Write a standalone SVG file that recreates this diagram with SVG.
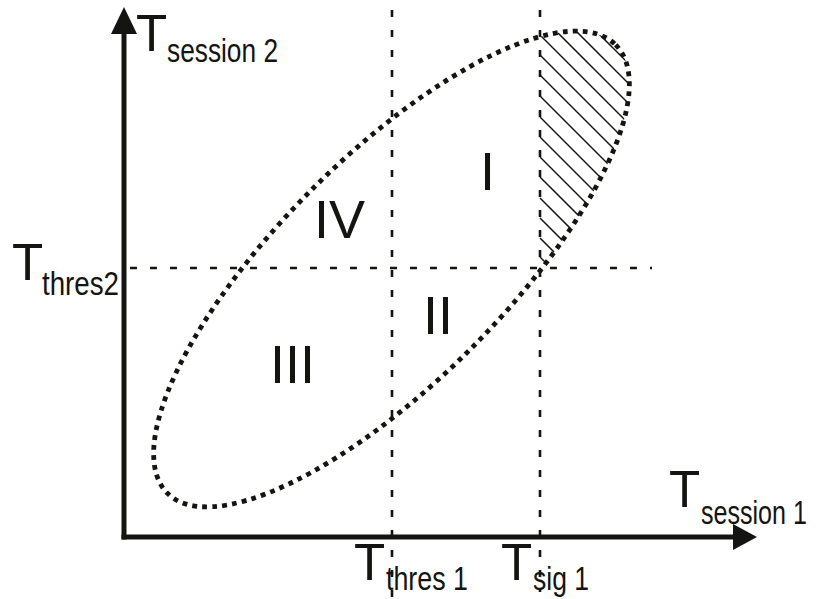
<svg xmlns="http://www.w3.org/2000/svg" width="819" height="599" viewBox="0 0 819 599">
<style>
.axis{stroke:#141410;stroke-width:5;fill:none}
.head{fill:#141410}
.grid{stroke:#141410;stroke-width:2.6;stroke-dasharray:7 13;fill:none}
.ell{stroke:#141410;stroke-width:4.8;stroke-dasharray:4.8 5.2;fill:none}
.hatch{stroke:#141410;stroke-width:1.5}
.big{font-family:"Liberation Sans",Arial,sans-serif;font-size:51px;fill:#141410}
.sub{font-family:"Liberation Sans",Arial,sans-serif;font-size:33px;fill:#141410}
.roman{font-family:"Liberation Sans",Arial,sans-serif;font-size:54px;fill:#141410}
</style>
<defs>
<clipPath id="hclip">
<ellipse cx="391.5" cy="269" rx="317" ry="112.5" transform="rotate(-45 391.5 269)"/>
</clipPath>
</defs>
<rect width="819" height="599" fill="#ffffff"/>
<g id="connectors">
<line class="axis" x1="124" y1="30" x2="124" y2="539.5"/>
<polygon class="head" points="124,7 111,34 137,34"/>
<line class="axis" x1="121.5" y1="537" x2="737" y2="537"/>
<polygon class="head" points="757,537 733,524 733,550"/>
<line class="grid" x1="392" y1="10" x2="392" y2="599"/>
<line class="grid" x1="540" y1="10" x2="540" y2="592"/>
<line class="grid" x1="130" y1="268" x2="652" y2="268"/>
</g>
<g id="hatching" clip-path="url(#hclip)">
<g transform="translate(540 0)">
<line class="hatch" x1="0" y1="-85" x2="120" y2="35"/>
<line class="hatch" x1="0" y1="-65" x2="120" y2="55"/>
<line class="hatch" x1="0" y1="-45" x2="120" y2="75"/>
<line class="hatch" x1="0" y1="-25" x2="120" y2="95"/>
<line class="hatch" x1="0" y1="-5" x2="120" y2="115"/>
<line class="hatch" x1="0" y1="15" x2="120" y2="135"/>
<line class="hatch" x1="0" y1="35" x2="120" y2="155"/>
<line class="hatch" x1="0" y1="55" x2="120" y2="175"/>
<line class="hatch" x1="0" y1="75" x2="120" y2="195"/>
<line class="hatch" x1="0" y1="96" x2="120" y2="216"/>
<line class="hatch" x1="0" y1="117" x2="120" y2="237"/>
<line class="hatch" x1="0" y1="137" x2="120" y2="257"/>
<line class="hatch" x1="0" y1="157" x2="120" y2="277"/>
<line class="hatch" x1="0" y1="177" x2="120" y2="297"/>
<line class="hatch" x1="0" y1="198" x2="120" y2="318"/>
<line class="hatch" x1="0" y1="218" x2="120" y2="338"/>
<line class="hatch" x1="0" y1="238" x2="120" y2="358"/>
<line class="hatch" x1="0" y1="257" x2="120" y2="377"/>
</g>
</g>
<g id="ellipse">
<ellipse class="ell" cx="391.5" cy="269" rx="317" ry="112.5" transform="rotate(-45 391.5 269)"/>
</g>
<g id="region-I"><text class="roman" x="480" y="190">I</text></g>
<g id="region-II"><text class="roman" x="423" y="334">II</text></g>
<g id="region-III"><text class="roman" x="270" y="383">III</text></g>
<g id="region-IV"><text class="roman" x="314" y="238">IV</text></g>
<g id="label-y">
<text class="big" x="136" y="51">T</text>
<text class="sub" x="167" y="62" textLength="111" lengthAdjust="spacingAndGlyphs">session 2</text>
</g>
<g id="label-thres2">
<text class="big" x="12" y="280">T</text>
<text class="sub" x="42" y="295" textLength="77" lengthAdjust="spacingAndGlyphs">thres2</text>
</g>
<g id="label-x">
<text class="big" x="669" y="507">T</text>
<text class="sub" transform="translate(701 524) scale(0.76 1)" x="0" y="0">session 1</text>
</g>
<g id="label-thres1">
<text class="big" x="354" y="580">T</text>
<text class="sub" x="386" y="590" textLength="82" lengthAdjust="spacingAndGlyphs">thres 1</text>
</g>
<g id="label-sig1">
<text class="big" x="501" y="580">T</text>
<text class="sub" x="533" y="590" textLength="56" lengthAdjust="spacingAndGlyphs">sig 1</text>
</g>
</svg>
